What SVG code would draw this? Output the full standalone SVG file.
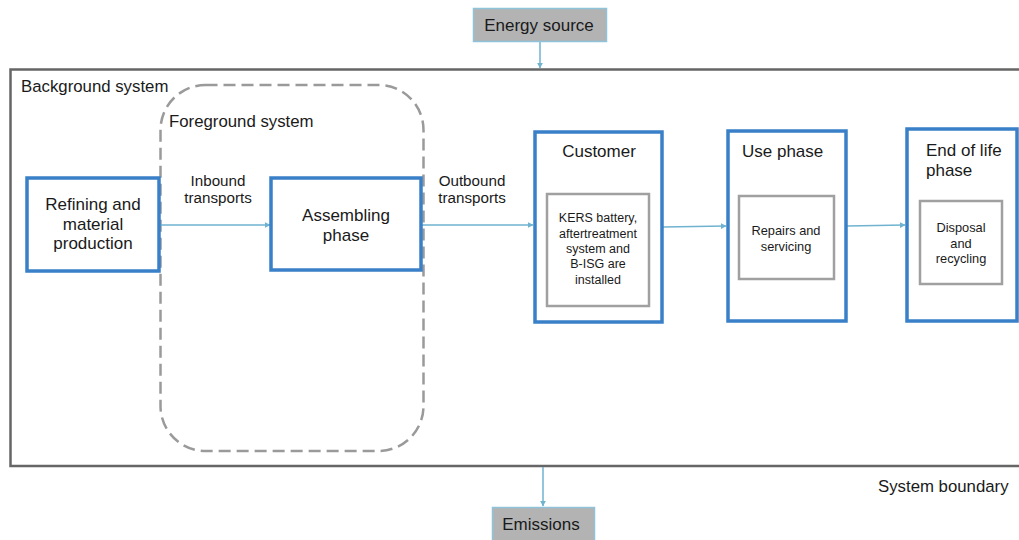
<svg xmlns="http://www.w3.org/2000/svg" width="1019" height="540" viewBox="0 0 1019 540">
<defs>
<marker id="ah" viewBox="0 0 10 10" refX="9" refY="5" markerWidth="6" markerHeight="6" markerUnits="userSpaceOnUse" orient="auto"><path d="M0,0 L10,5 L0,10 z" fill="#6fb3d0"/></marker>
<style>
text{font-family:"Liberation Sans",Arial,sans-serif;fill:#1a1a1a}
.t16{font-size:17px}
.t15{font-size:16.8px}
.t14{font-size:15.2px}
.t12{font-size:12.8px}
.t11{font-size:12.5px}
.mid{text-anchor:middle}
.blue{fill:#fff;stroke:#3a80c8;stroke-width:3.5}
.inner{fill:#fff;stroke:#a0a0a0;stroke-width:2.5}
.grey{fill:#b3b3b3;stroke:#8ec3da;stroke-width:1.5}
.conn{stroke:#6fb3d0;stroke-width:1.5;fill:none;marker-end:url(#ah)}
</style>
</defs>
<rect width="1019" height="540" fill="#fff"/>
<g id="system-boundary">
<path d="M1025,69.5 H10.5 V466 H1025" fill="none" stroke="#666" stroke-width="2.5"/>
<text class="t15" x="21" y="92">Background system</text>
<text class="t15" x="878" y="492">System boundary</text>
</g>
<g id="foreground-system">
<rect x="160.5" y="85" width="263" height="366" rx="45" ry="45" fill="none" stroke="#9a9a9a" stroke-width="2.5" stroke-dasharray="12 6"/>
<text class="t15" x="169" y="127">Foreground system</text>
</g>
<g id="connectors">
<line class="conn" x1="540" y1="42" x2="540" y2="68"/>
<line class="conn" x1="543" y1="467" x2="543" y2="506"/>
<line class="conn" x1="160" y1="225" x2="270" y2="225"/>
<line class="conn" x1="422" y1="225" x2="533" y2="225"/>
<line class="conn" x1="663" y1="227" x2="726" y2="226"/>
<line class="conn" x1="847" y1="226" x2="905" y2="225"/>
<text class="t14 mid" x="218" y="186">Inbound</text>
<text class="t14 mid" x="218" y="203">transports</text>
<text class="t14 mid" x="472" y="186">Outbound</text>
<text class="t14 mid" x="472" y="203">transports</text>
</g>
<g id="energy-source">
<rect class="grey" x="473.5" y="8.5" width="133" height="33"/>
<text class="t16 mid" x="539" y="31">Energy source</text>
</g>
<g id="emissions">
<rect class="grey" x="492.5" y="507.5" width="102" height="40"/>
<text class="t16 mid" x="541" y="530">Emissions</text>
</g>
<g id="refining">
<rect class="blue" x="27" y="178" width="132" height="93"/>
<text class="t16 mid" x="93" y="210">Refining and</text>
<text class="t16 mid" x="93" y="230">material</text>
<text class="t16 mid" x="93" y="249">production</text>
</g>
<g id="assembling">
<rect class="blue" x="271" y="178" width="150" height="92"/>
<text class="t16 mid" x="346" y="221">Assembling</text>
<text class="t16 mid" x="346" y="241">phase</text>
</g>
<g id="customer">
<rect class="blue" x="535" y="132" width="127" height="190"/>
<text class="t16 mid" x="599" y="157">Customer</text>
<rect class="inner" x="547" y="194" width="102" height="112"/>
<text class="t11 mid" x="598" y="222">KERS battery,</text>
<text class="t11 mid" x="598" y="238">aftertreatment</text>
<text class="t11 mid" x="598" y="253">system and</text>
<text class="t11 mid" x="598" y="268">B-ISG are</text>
<text class="t11 mid" x="598" y="284">installed</text>
</g>
<g id="use-phase">
<rect class="blue" x="728" y="131" width="118" height="190"/>
<text class="t16" x="742" y="157">Use phase</text>
<rect class="inner" x="739" y="196" width="95" height="83"/>
<text class="t12 mid" x="786" y="235">Repairs and</text>
<text class="t12 mid" x="786" y="251">servicing</text>
</g>
<g id="end-of-life">
<rect class="blue" x="907" y="129" width="110" height="192"/>
<text class="t16" x="926" y="156">End of life</text>
<text class="t16" x="926" y="176">phase</text>
<rect class="inner" x="920" y="201" width="82" height="83"/>
<text class="t12 mid" x="961" y="232">Disposal</text>
<text class="t12 mid" x="961" y="248">and</text>
<text class="t12 mid" x="961" y="263">recycling</text>
</g>
</svg>
